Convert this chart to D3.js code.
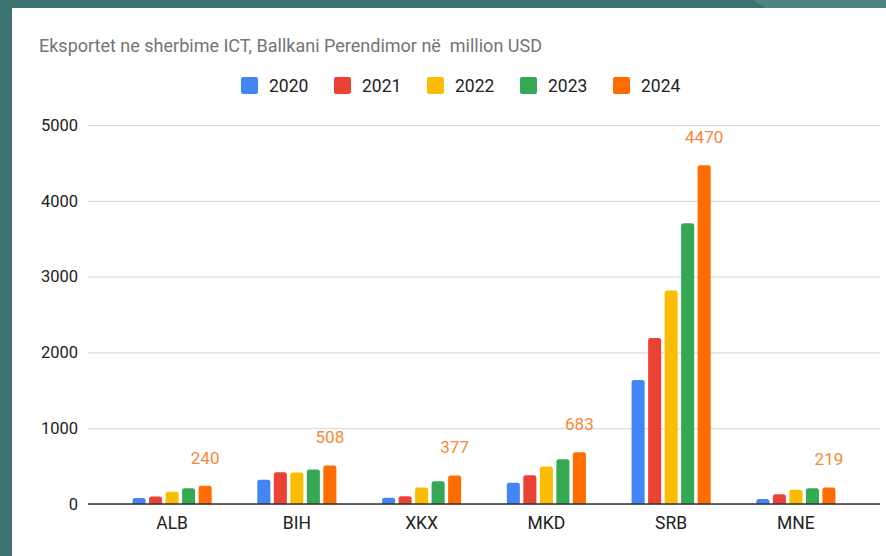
<!DOCTYPE html>
<html>
<head>
<meta charset="utf-8">
<script src="https://cdn.jsdelivr.net/npm/d3@7"></script>
<style>
  body { margin: 0; background: #3b7471; }
  svg text { font-family: Roboto, Arial, sans-serif; }
</style>
</head>
<body>
<div id="chart"></div>
<script>
// data
var countries = ["ALB", "BIH", "XKX", "MKD", "SRB", "MNE"];
var years = ["2020", "2021", "2022", "2023", "2024"];
var v2020 = [80, 319, 82, 280, 1635, 66];
var v2021 = [100, 418, 103, 380, 2189, 128];
var v2022 = [162, 415, 218, 494, 2817, 189];
var v2023 = [207, 455, 300, 591, 3705, 207];
var v2024 = [240, 508, 377, 683, 4470, 219];
var yTicks = [0, 1000, 2000, 3000, 4000, 5000];
var colors = ["#4285f4", "#ea4335", "#fbbc04", "#34a853", "#ff6d01"];
var title = "Eksportet ne sherbime ICT, Ballkani Perendimor në\u00a0 million USD";

var series = [v2020, v2021, v2022, v2023, v2024];

var W = 886, H = 556;
var plotLeft = 88, plotRight = 880, plotTop = 125, plotBottom = 504;

var svg = d3.select("#chart").append("svg")
    .attr("width", W)
    .attr("height", H);

// frame: teal border + white card
svg.append("rect").attr("width", W).attr("height", H).attr("fill", "#3b7471");
svg.append("polygon")
    .attr("points", "753,0 886,0 886,8 765,8")
    .attr("fill", "#4e8581");
svg.append("rect").attr("x", 12).attr("y", 8).attr("width", W - 12).attr("height", H - 8).attr("fill", "#fff");

var x0 = d3.scaleBand().domain(countries).range([plotLeft, plotRight])
    .paddingInner(0.366).paddingOuter(0.357);
var x1 = d3.scaleBand().domain(years).range([0, x0.bandwidth()]).paddingInner(0.21);
var y = d3.scaleLinear().domain([0, 5000]).range([plotBottom, plotTop]);

// title
svg.append("text")
    .attr("x", 39).attr("y", 52)
    .attr("fill", "#757575")
    .style("font-size", "18px")
    .text(title);

// legend
var leg = svg.append("g").attr("transform", "translate(241,77)");
years.forEach(function (yr, i) {
  var g = leg.append("g").attr("transform", "translate(" + (i * 93) + ",0)");
  g.append("rect").attr("width", 17).attr("height", 17).attr("rx", 2).attr("fill", colors[i]);
  g.append("text").attr("x", 28).attr("y", 14.5)
      .attr("fill", "#222").style("font-size", "17.5px").text(yr);
});

// y axis + gridlines
var yAxis = svg.append("g")
    .attr("transform", "translate(" + plotLeft + ",0)")
    .call(d3.axisLeft(y).tickValues(yTicks).tickFormat(d3.format("d"))
      .tickSize(-(plotRight - plotLeft)).tickPadding(10));
yAxis.select(".domain").remove();
yAxis.selectAll(".tick line").attr("stroke", "#d6d6d6");
yAxis.selectAll(".tick text").attr("fill", "#222").style("font-size", "16.5px");

// bars with rounded tops
function barPath(x, w, y0, y1, r) {
  r = Math.min(r, (y0 - y1), w / 2);
  return "M" + x + "," + y0 +
    "V" + (y1 + r) +
    "Q" + x + "," + y1 + " " + (x + r) + "," + y1 +
    "H" + (x + w - r) +
    "Q" + (x + w) + "," + y1 + " " + (x + w) + "," + (y1 + r) +
    "V" + y0 + "Z";
}

var groups = svg.append("g").selectAll("g")
    .data(countries)
    .join("g")
    .attr("transform", function (d) { return "translate(" + x0(d) + ",0)"; });

groups.selectAll("path")
    .data(function (d, ci) { return years.map(function (yr, si) { return {yr: yr, si: si, v: series[si][ci]}; }); })
    .join("path")
    .attr("fill", function (d) { return colors[d.si]; })
    .attr("d", function (d) { return barPath(x1(d.yr), x1.bandwidth(), y(0), y(d.v), 2.5); });

// zero line
svg.append("line")
    .attr("x1", plotLeft).attr("x2", plotRight)
    .attr("y1", y(0)).attr("y2", y(0))
    .attr("stroke", "#333").attr("stroke-width", 1.5);

// value labels on 2024 series
svg.append("g").selectAll("text")
    .data(countries)
    .join("text")
    .attr("x", function (d) { return x0(d) + x1("2024") + x1.bandwidth() / 2; })
    .attr("y", function (d, i) { return y(v2024[i]) - 22; })
    .attr("text-anchor", "middle")
    .attr("fill", "#f5883a")
    .style("font-size", "17px")
    .text(function (d, i) { return v2024[i]; });

// x axis labels
var xAxis = svg.append("g")
    .attr("transform", "translate(0," + plotBottom + ")")
    .call(d3.axisBottom(x0).tickSize(0).tickPadding(13));
xAxis.select(".domain").remove();
xAxis.selectAll(".tick text").attr("fill", "#222").style("font-size", "17.5px");
</script>
</body>
</html>
